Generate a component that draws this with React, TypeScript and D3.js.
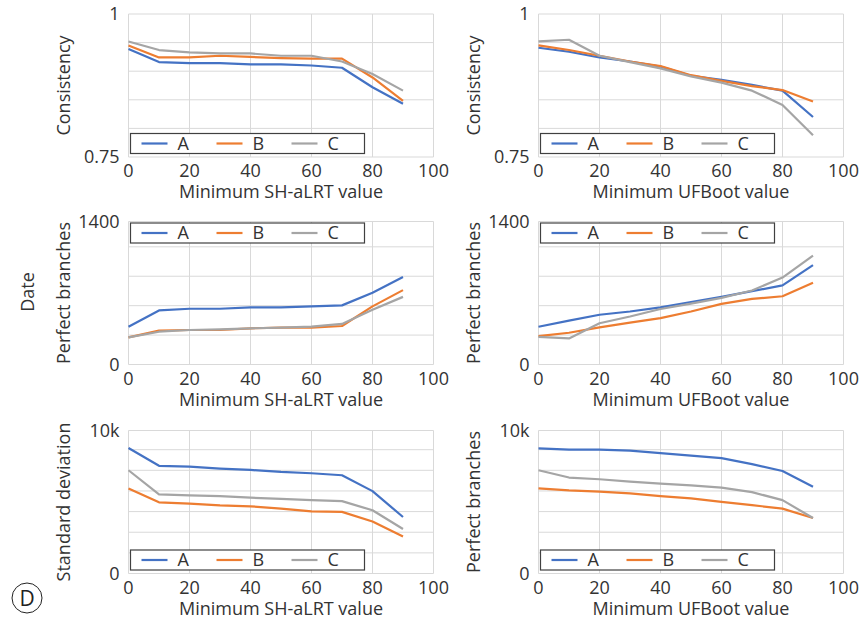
import { useEffect, useRef } from 'react';
import * as d3 from 'd3';

const xValues = [0, 10, 20, 30, 40, 50, 60, 70, 80, 90];
const xTicks = [0, 20, 40, 60, 80, 100];
const seriesNames = ['A', 'B', 'C'];
const seriesColors = ['#4472c4', '#ed7d31', '#a5a5a5'];

// consistency
const consShA = [0.939, 0.916, 0.914, 0.914, 0.912, 0.912, 0.910, 0.906, 0.872, 0.843];
const consShB = [0.945, 0.924, 0.924, 0.927, 0.925, 0.923, 0.922, 0.922, 0.889, 0.848];
const consShC = [0.952, 0.937, 0.933, 0.931, 0.931, 0.927, 0.927, 0.917, 0.895, 0.866];
const consUfA = [0.941, 0.934, 0.924, 0.917, 0.908, 0.892, 0.885, 0.876, 0.866, 0.820];
const consUfB = [0.945, 0.937, 0.927, 0.917, 0.909, 0.893, 0.883, 0.874, 0.867, 0.847];
const consUfC = [0.952, 0.955, 0.927, 0.916, 0.905, 0.891, 0.880, 0.866, 0.841, 0.788];

// perfect branches
const perfShA = [370, 529, 546, 546, 559, 559, 569, 579, 702, 857];
const perfShB = [265, 331, 338, 338, 354, 361, 361, 377, 569, 728];
const perfShC = [265, 321, 338, 344, 354, 361, 371, 397, 536, 662];
const perfUfA = [370, 430, 487, 519, 559, 612, 662, 718, 774, 973];
const perfUfB = [278, 311, 364, 410, 454, 519, 593, 642, 668, 801];
const perfUfC = [271, 255, 404, 470, 543, 596, 652, 725, 851, 1066];

// standard deviation
const sdShA = [8780, 7530, 7480, 7340, 7240, 7100, 7010, 6870, 5760, 3950];
const sdShB = [5950, 4980, 4890, 4770, 4700, 4540, 4350, 4310, 3640, 2580];
const sdShC = [7220, 5530, 5460, 5410, 5300, 5220, 5130, 5060, 4420, 3110];
const sdUfA = [8750, 8660, 8660, 8590, 8420, 8240, 8070, 7650, 7170, 6070];
const sdUfB = [5950, 5810, 5720, 5600, 5410, 5250, 5010, 4780, 4540, 3880];
const sdUfC = [7220, 6710, 6590, 6420, 6280, 6160, 6000, 5690, 5130, 3880];

const consGrid = [0.8, 0.85, 0.9, 0.95];
const perfGrid = [288, 576, 864, 1152];
const sdGrid = [1443, 2886, 4329, 5772, 7215, 8658];

const panels = [
  { col: 0, row: 0, yTitle: 'Consistency', xTitle: 'Minimum SH-aLRT value', domain: [0.75, 1], yLabels: ['0.75', '1'], grid: consGrid, series: [consShA, consShB, consShC], legendTop: false },
  { col: 1, row: 0, yTitle: 'Consistency', xTitle: 'Minimum UFBoot value', domain: [0.75, 1], yLabels: ['0.75', '1'], grid: consGrid, series: [consUfA, consUfB, consUfC], legendTop: false },
  { col: 0, row: 1, yTitle: 'Perfect branches', xTitle: 'Minimum SH-aLRT value', domain: [0, 1400], yLabels: ['0', '1400'], grid: perfGrid, series: [perfShA, perfShB, perfShC], legendTop: true },
  { col: 1, row: 1, yTitle: 'Perfect branches', xTitle: 'Minimum UFBoot value', domain: [0, 1400], yLabels: ['0', '1400'], grid: perfGrid, series: [perfUfA, perfUfB, perfUfC], legendTop: true },
  { col: 0, row: 2, yTitle: 'Standard deviation', xTitle: 'Minimum SH-aLRT value', domain: [0, 10000], yLabels: ['0', '10k'], grid: sdGrid, series: [sdShA, sdShB, sdShC], legendTop: false },
  { col: 1, row: 2, yTitle: 'Perfect branches', xTitle: 'Minimum UFBoot value', domain: [0, 10000], yLabels: ['0', '10k'], grid: sdGrid, series: [sdUfA, sdUfB, sdUfC], legendTop: false },
];

const FONT = '"Open Sans", "Noto Sans", sans-serif';
const TEXT = '#333';

export default function App() {
  const svgRef = useRef<SVGSVGElement>(null);

  useEffect(() => {
    if (!svgRef.current) return;
    const svg = d3.select(svgRef.current);
    svg.selectAll('*').remove();

    const colLeft = [128.5, 538.5];
    const rowTop = [14, 221.5, 430.5];
    const pw = 305;
    const ph = 143;

    panels.forEach((p) => {
      const left = colLeft[p.col];
      const top = rowTop[p.row];
      const g = svg.append('g').attr('transform', `translate(${left},${top})`);

      const x = d3.scaleLinear().domain([0, 100]).range([0, pw]);
      const y = d3.scaleLinear().domain(p.domain).range([ph, 0]);

      // grid + frame
      const hLines = [p.domain[0], ...p.grid, p.domain[1]];
      g.selectAll('.hg').data(hLines).enter().append('line')
        .attr('x1', 0).attr('x2', pw)
        .attr('y1', (d) => y(d)).attr('y2', (d) => y(d))
        .attr('stroke', '#d9d9d9').attr('stroke-width', 1);
      g.selectAll('.vg').data(xTicks).enter().append('line')
        .attr('x1', (d) => x(d)).attr('x2', (d) => x(d))
        .attr('y1', 0).attr('y2', ph)
        .attr('stroke', '#d9d9d9').attr('stroke-width', 1);

      // x tick labels
      g.selectAll('.xt').data(xTicks).enter().append('text')
        .attr('x', (d) => x(d)).attr('y', ph + 20)
        .attr('text-anchor', 'middle')
        .attr('font-family', FONT).attr('font-size', 18).attr('fill', TEXT)
        .text((d) => d);

      // y tick labels (only min and max)
      g.selectAll('.yt').data(p.domain).enter().append('text')
        .attr('x', -9).attr('y', (d) => y(d))
        .attr('dy', '0.36em')
        .attr('text-anchor', 'end')
        .attr('font-family', FONT).attr('font-size', 18).attr('fill', TEXT)
        .text((d, i) => p.yLabels[i]);

      // titles
      g.append('text')
        .attr('x', pw / 2).attr('y', ph + 41)
        .attr('text-anchor', 'middle')
        .attr('font-family', FONT).attr('font-size', 18).attr('fill', TEXT)
        .text(p.xTitle);
      g.append('text')
        .attr('transform', `translate(-59,${ph / 2}) rotate(-90)`)
        .attr('text-anchor', 'middle')
        .attr('font-family', FONT).attr('font-size', 18).attr('fill', TEXT)
        .text(p.yTitle);

      // lines
      const line = d3.line<number>()
        .x((d, i) => x(xValues[i]))
        .y((d) => y(d));
      p.series.forEach((s, i) => {
        g.append('path')
          .datum(s)
          .attr('d', line)
          .attr('fill', 'none')
          .attr('stroke', seriesColors[i])
          .attr('stroke-width', 2.2)
          .attr('stroke-linejoin', 'round');
      });

      // legend
      const lw = 234;
      const lh = 20;
      const ly = p.legendTop ? 1.5 : ph - 23.5;
      const lg = g.append('g').attr('transform', `translate(2,${ly})`);
      lg.append('rect')
        .attr('width', lw).attr('height', lh)
        .attr('fill', '#fff').attr('stroke', '#404040').attr('stroke-width', 1.2);
      seriesNames.forEach((name, i) => {
        const ox = i * 75;
        lg.append('line')
          .attr('x1', ox + 11).attr('x2', ox + 37)
          .attr('y1', lh / 2).attr('y2', lh / 2)
          .attr('stroke', seriesColors[i]).attr('stroke-width', 2.2);
        lg.append('text')
          .attr('x', ox + 47).attr('y', lh / 2)
          .attr('dy', '0.36em')
          .attr('font-family', FONT).attr('font-size', 18).attr('fill', TEXT)
          .text(name);
      });
    });

    // row label
    svg.append('text')
      .attr('transform', 'translate(34,292) rotate(-90)')
      .attr('text-anchor', 'middle')
      .attr('font-family', FONT).attr('font-size', 18).attr('fill', TEXT)
      .text('Date');

    // panel letter
    svg.append('circle')
      .attr('cx', 27).attr('cy', 598).attr('r', 15)
      .attr('fill', 'none').attr('stroke', '#222').attr('stroke-width', 1);
    svg.append('text')
      .attr('x', 27).attr('y', 598).attr('dy', '0.36em')
      .attr('text-anchor', 'middle')
      .attr('font-family', FONT).attr('font-size', 21).attr('fill', '#222')
      .text('D');
  }, []);

  return (
    <svg ref={svgRef} width={864} height={625}
      style={{ position: 'absolute', left: 0, top: 0, background: '#fff' }} />
  );
}
